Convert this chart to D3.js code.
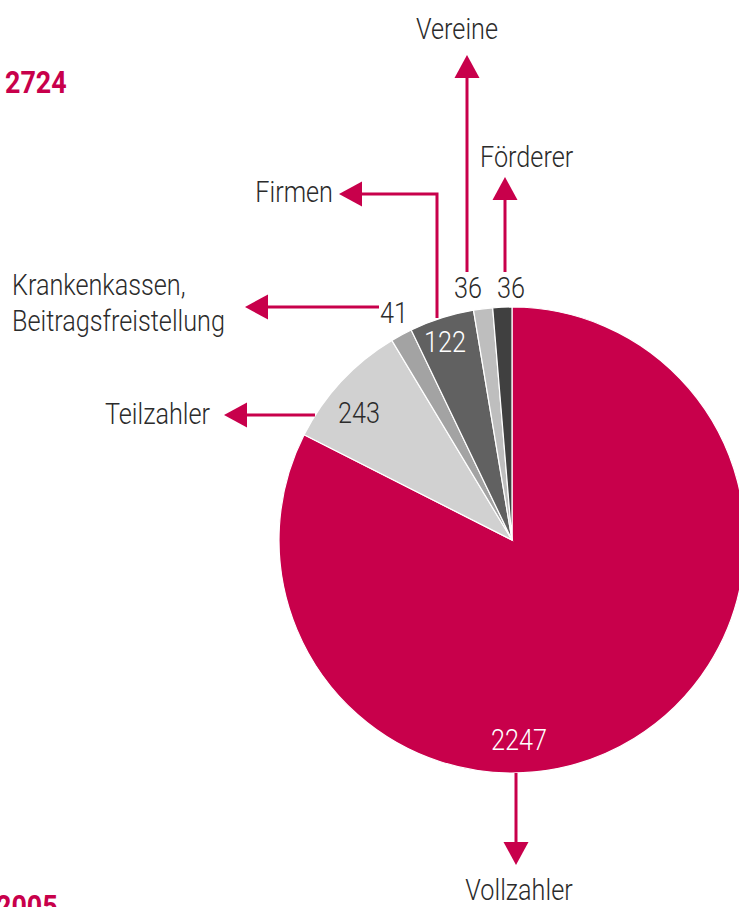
<!DOCTYPE html>
<html><head><meta charset="utf-8">
<script src="https://cdn.jsdelivr.net/npm/d3@7/dist/d3.min.js"></script>
<style>
html,body{margin:0;padding:0;background:#fff;overflow:hidden;}
svg{display:block;}
text{font-family:"Roboto","Liberation Sans",sans-serif;}
</style></head>
<body>
<svg id="chart" width="739" height="907"></svg>
<script>
// ---- data ----
const categories = ["Vollzahler", "Teilzahler", "Krankenkassen, Beitragsfreistellung", "Firmen", "Vereine", "Förderer"];
const values = [2247, 243, 41, 122, 36, 36];
const totalLabel = "2724";
const footerLabel = "2005";

// ---- style / layout ----
const colors = ["#c8004b", "#d1d1d1", "#a3a3a3", "#616161", "#bebebe", "#404040"];
const accent = "#c8004b";
const textColor = "#2b2b2b";
const cx = 512, cy = 540, R = 233;
const squeeze = 0.87; // condensed look

const svg = d3.select("#chart");

function ctext(parent, x, y, str, opts) {
  const gg = parent.append("g").attr("transform", `translate(${x},${y}) scale(${opts.sx || squeeze},1)`);
  const t = gg.append("text").attr("x", 0).attr("y", 0)
    .attr("text-anchor", opts.anchor || "start")
    .attr("font-size", opts.size || 29)
    .attr("font-weight", opts.weight || 300)
    .attr("fill", opts.fill || textColor);
  const lines = Array.isArray(str) ? str : [str];
  lines.forEach((s, i) => t.append("tspan").attr("x", 0).attr("dy", i === 0 ? 0 : (opts.lh || 36)).text(s));
  return t;
}

// title number
ctext(svg, 5, 93, totalLabel, {size: 32, weight: 700, fill: accent, sx: 0.84});
ctext(svg, -4, 917, footerLabel, {size: 32, weight: 700, fill: accent, sx: 0.84});

// pie
const pie = d3.pie().sort(null).value(d => d.v);
const arcs = pie(values.map((v, i) => ({v, name: categories[i], color: colors[i]})));
const arc = d3.arc().innerRadius(0).outerRadius(R);
const g = svg.append("g").attr("transform", `translate(${cx},${cy})`);
g.selectAll("path").data(arcs).join("path")
  .attr("d", arc).attr("fill", d => d.data.color)
  .attr("stroke", "#fff").attr("stroke-width", 1.2);

// value labels: [dx, dy] relative to center, with colour
const valueLabelPos = [[7, 210], [-153, -117], [-118, -217], [-67, -188], [-44, -242], [-1, -242]];
const valueLabelFill = ["#fff", textColor, textColor, "#fff", textColor, textColor];
arcs.forEach((d, i) => {
  ctext(g, valueLabelPos[i][0], valueLabelPos[i][1], String(d.data.v), {anchor: "middle", fill: valueLabelFill[i]});
});

// annotations: arrow polylines (last point is arrow base) and label placement
const annot = [
  {pts: [[516, 773], [516, 842]], dir: "down", lines: ["Vollzahler"], x: 519, y: 900, anchor: "middle"},
  {pts: [[315, 415], [247, 415]], dir: "left", lines: ["Teilzahler"], x: 210, y: 424, anchor: "end"},
  {pts: [[379, 307], [268, 307]], dir: "left", lines: ["Krankenkassen,", "Beitragsfreistellung"], x: 12, y: 295, anchor: "start"},
  {pts: [[437, 318], [437, 194], [362, 194]], dir: "left", lines: ["Firmen"], x: 333, y: 202, anchor: "end"},
  {pts: [[467, 272], [467, 78]], dir: "up", lines: ["Vereine"], x: 457, y: 39, anchor: "middle"},
  {pts: [[505, 272], [505, 200]], dir: "up", lines: ["Förderer"], x: 480, y: 167, anchor: "start"}
];
const line = d3.line();
const headLen = 23, headHalf = 12.5;
annot.forEach(a => {
  svg.append("path").attr("d", line(a.pts)).attr("fill", "none")
    .attr("stroke", accent).attr("stroke-width", 3);
  const [bx, by] = a.pts[a.pts.length - 1];
  let tri;
  if (a.dir === "left") tri = [[bx, by - headHalf], [bx - headLen, by], [bx, by + headHalf]];
  else if (a.dir === "up") tri = [[bx - headHalf, by], [bx, by - headLen], [bx + headHalf, by]];
  else tri = [[bx - headHalf, by], [bx, by + headLen], [bx + headHalf, by]];
  svg.append("path").attr("d", line(tri) + "Z").attr("fill", accent);
  ctext(svg, a.x, a.y, a.lines, {anchor: a.anchor});
});
</script>
</body></html>
